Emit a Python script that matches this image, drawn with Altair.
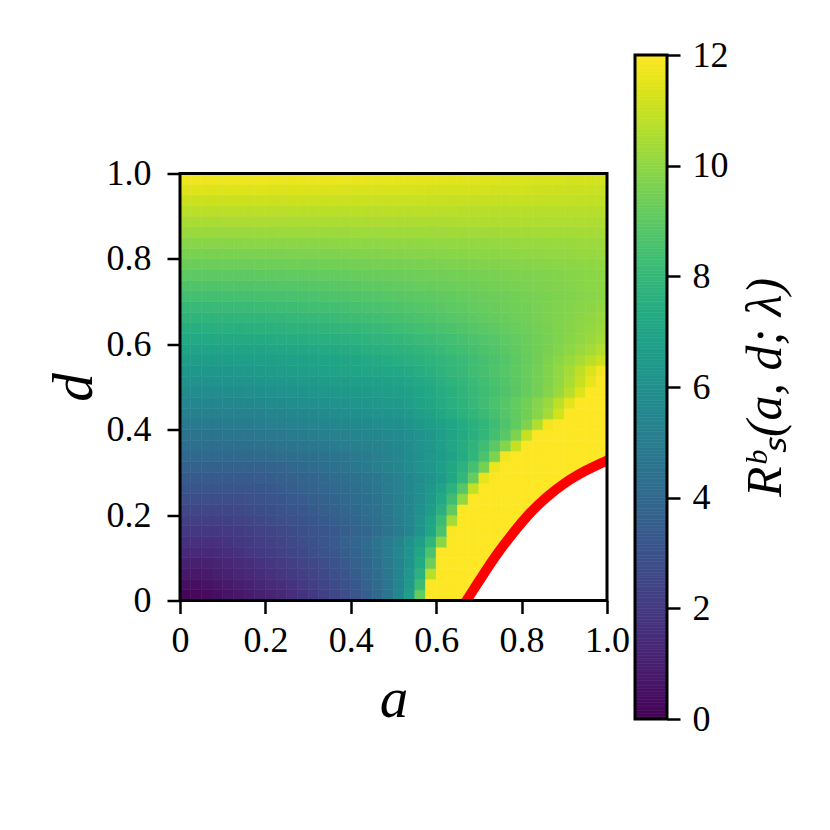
import altair as alt
import numpy as np
import pandas as pd

# ---- cell centres of the image grid (step 0.025) ----
a_centers = [0.0125, 0.0375, 0.0625, 0.0875, 0.1125, 0.1375, 0.1625, 0.1875, 0.2125, 0.2375,
             0.2625, 0.2875, 0.3125, 0.3375, 0.3625, 0.3875, 0.4125, 0.4375, 0.4625, 0.4875,
             0.5125, 0.5375, 0.5625, 0.5875, 0.6125, 0.6375, 0.6625, 0.6875, 0.7125, 0.7375,
             0.7625, 0.7875, 0.8125, 0.8375, 0.8625, 0.8875, 0.9125, 0.9375, 0.9625, 0.9875]
d_centers = list(a_centers)

SAT = 12  # saturated (yellow) cells of the band next to the red curve

# ---- R_s^b(a, d) read row by row, one list per d row (bottom to top) ----
row_00 = [0.15, 0.2, 0.32, 0.44, 0.57, 0.71, 0.85, 1.01, 1.17, 1.35, 1.54, 1.75, 1.97, 2.22, 2.5, 2.81, 3.16, 3.57, 4.06, 4.68, 5.49, 6.7, 9.15] + [SAT] * 17
row_01 = [0.44, 0.44, 0.56, 0.68, 0.81, 0.94, 1.08, 1.24, 1.39, 1.57, 1.75, 1.96, 2.17, 2.41, 2.67, 2.97, 3.3, 3.69, 4.15, 4.7, 5.42, 6.44, 8.17] + [SAT] * 17
row_02 = [0.74, 0.74, 0.8, 0.93, 1.05, 1.19, 1.33, 1.48, 1.63, 1.8, 1.98, 2.17, 2.39, 2.61, 2.86, 3.15, 3.46, 3.83, 4.25, 4.76, 5.41, 6.28, 7.63, 10.74] + [SAT] * 16
row_03 = [1.03, 1.03, 1.05, 1.17, 1.29, 1.42, 1.56, 1.7, 1.86, 2.02, 2.19, 2.38, 2.59, 2.81, 3.05, 3.32, 3.63, 3.96, 4.36, 4.84, 5.42, 6.18, 7.29, 9.32] + [SAT] * 16
row_04 = [1.33, 1.33, 1.33, 1.43, 1.55, 1.67, 1.8, 1.95, 2.1, 2.25, 2.42, 2.6, 2.81, 3.02, 3.25, 3.51, 3.8, 4.12, 4.5, 4.94, 5.47, 6.15, 7.09, 8.6] + [SAT] * 16
row_05 = [1.62, 1.62, 1.62, 1.65, 1.76, 1.88, 2.01, 2.15, 2.29, 2.45, 2.61, 2.78, 2.97, 3.18, 3.4, 3.64, 3.91, 4.22, 4.55, 4.95, 5.43, 6.01, 6.77, 7.88, 9.91] + [SAT] * 15
row_06 = [1.92, 1.92, 1.92, 1.92, 1.99, 2.08, 2.18, 2.3, 2.42, 2.55, 2.68, 2.83, 2.98, 3.14, 3.33, 3.52, 3.73, 3.97, 4.24, 4.56, 4.95, 5.45, 6.15, 7.1, 8.6, 11.92] + [SAT] * 14
row_07 = [2.21, 2.21, 2.21, 2.21, 2.24, 2.33, 2.43, 2.54, 2.66, 2.78, 2.92, 3.05, 3.2, 3.36, 3.53, 3.72, 3.92, 4.15, 4.41, 4.7, 5.06, 5.5, 6.1, 6.95, 8.2, 10.4] + [SAT] * 14
row_08 = [2.51, 2.51, 2.51, 2.51, 2.51, 2.56, 2.66, 2.76, 2.87, 2.99, 3.12, 3.25, 3.39, 3.54, 3.7, 3.88, 4.07, 4.28, 4.52, 4.79, 5.1, 5.5, 5.98, 6.65, 7.6, 9.1] + [SAT] * 14
row_09 = [2.8, 2.8, 2.8, 2.8, 2.8, 2.8, 2.9, 2.99, 3.1, 3.21, 3.32, 3.45, 3.57, 3.72, 3.87, 4.03, 4.21, 4.4, 4.62, 4.86, 5.14, 5.48, 5.9, 6.45, 7.2, 8.3, 10.1] + [SAT] * 13
row_10 = [3.1, 3.1, 3.1, 3.1, 3.1, 3.1, 3.12, 3.2, 3.3, 3.4, 3.51, 3.63, 3.75, 3.88, 4.02, 4.17, 4.34, 4.52, 4.72, 4.94, 5.2, 5.5, 5.87, 6.33, 6.92, 7.7, 8.85, 10.9] + [SAT] * 12
row_11 = [3.39, 3.39, 3.39, 3.39, 3.39, 3.39, 3.39, 3.43, 3.51, 3.61, 3.71, 3.82, 3.92, 4.05, 4.18, 4.32, 4.47, 4.63, 4.8, 5.0, 5.22, 5.47, 5.76, 6.1, 6.55, 7.15, 7.95, 9.2, 11.6] + [SAT] * 11
row_12 = [3.69, 3.69, 3.69, 3.69, 3.69, 3.69, 3.69, 3.69, 3.73, 3.84, 3.95, 4.06, 4.19, 4.31, 4.46, 4.6, 4.76, 4.93, 5.11, 5.31, 5.53, 5.78, 6.06, 6.37, 6.73, 7.17, 7.72, 8.44, 9.52, 11.7] + [SAT] * 10
row_13 = [3.98, 3.98, 3.99, 4.0, 4.02, 4.04, 4.07, 4.11, 4.15, 4.2, 4.26, 4.33, 4.41, 4.5, 4.6, 4.71, 4.83, 4.96, 5.1, 5.28, 5.5, 5.74, 6.0, 6.26, 6.55, 6.92, 7.35, 7.9, 8.6, 9.65, 11.8] + [SAT] * 9
row_14 = [4.28, 4.29, 4.3, 4.32, 4.34, 4.37, 4.4, 4.45, 4.5, 4.56, 4.62, 4.69, 4.77, 4.86, 4.95, 5.04, 5.13, 5.22, 5.33, 5.45, 5.6, 5.8, 6.05, 6.35, 6.7, 7.05, 7.42, 7.82, 8.3, 8.95, 9.8, 11.0] + [SAT] * 8
row_15 = [4.57, 4.58, 4.6, 4.62, 4.64, 4.67, 4.7, 4.75, 4.8, 4.86, 4.92, 4.99, 5.07, 5.16, 5.25, 5.33, 5.41, 5.49, 5.57, 5.65, 5.75, 5.92, 6.15, 6.42, 6.7, 7.0, 7.3, 7.6, 7.95, 8.38, 8.9, 9.7, 11.0] + [SAT] * 7
row_16 = [4.87, 4.88, 4.89, 4.91, 4.93, 4.96, 4.99, 5.04, 5.1, 5.15, 5.21, 5.28, 5.35, 5.42, 5.5, 5.57, 5.64, 5.71, 5.78, 5.86, 5.95, 6.12, 6.35, 6.6, 6.85, 7.1, 7.35, 7.6, 7.9, 8.25, 8.65, 9.12, 9.7, 10.6, 11.8] + [SAT] * 5
row_17 = [5.16, 5.17, 5.18, 5.2, 5.22, 5.25, 5.28, 5.33, 5.4, 5.45, 5.51, 5.57, 5.64, 5.72, 5.8, 5.87, 5.94, 6.01, 6.08, 6.16, 6.25, 6.45, 6.68, 6.92, 7.16, 7.4, 7.65, 7.9, 8.15, 8.47, 8.8, 9.12, 9.45, 9.85, 10.4, 11.2] + [SAT] * 4
row_18 = [5.46, 5.47, 5.48, 5.5, 5.52, 5.55, 5.58, 5.63, 5.7, 5.75, 5.81, 5.87, 5.94, 6.02, 6.1, 6.17, 6.24, 6.31, 6.37, 6.43, 6.5, 6.68, 6.9, 7.12, 7.33, 7.55, 7.8, 8.05, 8.3, 8.57, 8.85, 9.15, 9.45, 9.8, 10.2, 10.8, 11.5] + [SAT] * 3
row_19 = [5.75, 5.76, 5.77, 5.79, 5.81, 5.84, 5.87, 5.92, 5.98, 6.03, 6.09, 6.15, 6.21, 6.28, 6.35, 6.41, 6.47, 6.52, 6.58, 6.64, 6.7, 6.84, 7.0, 7.19, 7.39, 7.6, 7.82, 8.05, 8.25, 8.47, 8.7, 8.94, 9.2, 9.48, 9.8, 10.2, 10.7, 11.4, 12, 12]
row_20 = [6.05, 6.06, 6.07, 6.09, 6.11, 6.14, 6.17, 6.22, 6.27, 6.32, 6.38, 6.44, 6.5, 6.55, 6.6, 6.65, 6.7, 6.76, 6.81, 6.86, 6.92, 7.05, 7.2, 7.37, 7.56, 7.75, 7.95, 8.15, 8.35, 8.55, 8.75, 8.97, 9.2, 9.46, 9.75, 10.1, 10.5, 11.0, 11.6, 12]
row_21 = [6.34, 6.35, 6.36, 6.38, 6.4, 6.43, 6.46, 6.5, 6.55, 6.6, 6.66, 6.72, 6.78, 6.83, 6.88, 6.93, 6.98, 7.03, 7.08, 7.13, 7.18, 7.3, 7.45, 7.61, 7.78, 7.95, 8.12, 8.3, 8.48, 8.66, 8.85, 9.05, 9.25, 9.48, 9.75, 10.05, 10.4, 10.85, 11.35, 11.85]
row_22 = [6.64, 6.64, 6.65, 6.66, 6.67, 6.69, 6.71, 6.73, 6.76, 6.79, 6.82, 6.86, 6.9, 6.95, 7.0, 7.06, 7.12, 7.19, 7.27, 7.35, 7.44, 7.54, 7.65, 7.76, 7.88, 8.01, 8.15, 8.3, 8.46, 8.63, 8.81, 9.0, 9.2, 9.42, 9.65, 9.9, 10.17, 10.46, 10.77, 11.1]
row_23 = [6.93, 6.93, 6.94, 6.95, 6.96, 6.98, 7.0, 7.02, 7.05, 7.08, 7.11, 7.15, 7.19, 7.24, 7.29, 7.35, 7.41, 7.48, 7.55, 7.63, 7.71, 7.8, 7.9, 8.0, 8.11, 8.23, 8.35, 8.48, 8.62, 8.76, 8.91, 9.07, 9.24, 9.42, 9.6, 9.79, 9.99, 10.2, 10.42, 10.65]
row_24 = [7.23, 7.23, 7.24, 7.25, 7.26, 7.28, 7.3, 7.32, 7.35, 7.38, 7.41, 7.45, 7.49, 7.53, 7.58, 7.63, 7.69, 7.75, 7.82, 7.89, 7.96, 8.04, 8.13, 8.22, 8.31, 8.41, 8.52, 8.63, 8.75, 8.87, 9.0, 9.13, 9.27, 9.41, 9.56, 9.71, 9.87, 10.03, 10.2, 10.37]
row_25 = [7.52, 7.52, 7.53, 7.54, 7.55, 7.57, 7.59, 7.61, 7.64, 7.67, 7.7, 7.74, 7.78, 7.82, 7.87, 7.92, 7.97, 8.03, 8.09, 8.16, 8.23, 8.3, 8.38, 8.46, 8.54, 8.63, 8.72, 8.82, 8.92, 9.02, 9.13, 9.24, 9.35, 9.47, 9.59, 9.71, 9.83, 9.96, 10.09, 10.22]
row_26 = [7.82, 7.82, 7.83, 7.84, 7.85, 7.87, 7.89, 7.91, 7.94, 7.97, 8.0, 8.03, 8.07, 8.11, 8.15, 8.2, 8.25, 8.3, 8.36, 8.42, 8.48, 8.55, 8.62, 8.69, 8.76, 8.84, 8.92, 9.0, 9.08, 9.17, 9.26, 9.35, 9.44, 9.54, 9.63, 9.73, 9.83, 9.93, 10.03, 10.13]
row_27 = [8.11, 8.11, 8.12, 8.13, 8.14, 8.15, 8.17, 8.19, 8.21, 8.24, 8.27, 8.3, 8.33, 8.37, 8.41, 8.45, 8.49, 8.54, 8.59, 8.64, 8.69, 8.75, 8.81, 8.87, 8.93, 9.0, 9.06, 9.13, 9.2, 9.27, 9.34, 9.41, 9.49, 9.56, 9.64, 9.71, 9.79, 9.87, 9.95, 10.03]
row_28 = [8.41, 8.41, 8.42, 8.42, 8.43, 8.44, 8.46, 8.47, 8.49, 8.51, 8.54, 8.56, 8.59, 8.62, 8.65, 8.69, 8.72, 8.76, 8.8, 8.84, 8.88, 8.93, 8.97, 9.02, 9.07, 9.12, 9.17, 9.22, 9.28, 9.33, 9.39, 9.44, 9.5, 9.56, 9.62, 9.68, 9.74, 9.8, 9.86, 9.92]
row_29 = [8.7, 8.7, 8.71, 8.71, 8.72, 8.73, 8.74, 8.76, 8.77, 8.79, 8.81, 8.83, 8.86, 8.88, 8.91, 8.94, 8.97, 9.0, 9.03, 9.07, 9.1, 9.14, 9.18, 9.22, 9.26, 9.3, 9.34, 9.38, 9.43, 9.47, 9.52, 9.56, 9.61, 9.65, 9.7, 9.75, 9.8, 9.85, 9.9, 9.95]
row_30 = [9.0, 9.0, 9.01, 9.01, 9.02, 9.02, 9.03, 9.04, 9.06, 9.07, 9.09, 9.1, 9.12, 9.14, 9.16, 9.18, 9.21, 9.23, 9.26, 9.28, 9.31, 9.34, 9.37, 9.4, 9.43, 9.46, 9.49, 9.52, 9.55, 9.59, 9.62, 9.65, 9.69, 9.72, 9.76, 9.79, 9.83, 9.86, 9.9, 9.94]
row_31 = [9.29, 9.29, 9.3, 9.3, 9.31, 9.31, 9.32, 9.33, 9.34, 9.35, 9.36, 9.38, 9.39, 9.41, 9.42, 9.44, 9.46, 9.48, 9.5, 9.52, 9.54, 9.56, 9.58, 9.61, 9.63, 9.65, 9.68, 9.7, 9.73, 9.75, 9.78, 9.8, 9.83, 9.86, 9.88, 9.91, 9.94, 9.96, 9.99, 10.02]
row_32 = [9.59, 9.59, 9.59, 9.6, 9.6, 9.61, 9.61, 9.62, 9.63, 9.64, 9.65, 9.66, 9.67, 9.68, 9.7, 9.71, 9.72, 9.74, 9.75, 9.77, 9.78, 9.8, 9.82, 9.83, 9.85, 9.87, 9.89, 9.91, 9.93, 9.95, 9.97, 9.99, 10.01, 10.03, 10.05, 10.07, 10.09, 10.11, 10.13, 10.15]
row_33 = [9.88, 9.88, 9.88, 9.89, 9.89, 9.89, 9.9, 9.9, 9.91, 9.92, 9.92, 9.93, 9.94, 9.95, 9.96, 9.97, 9.98, 9.99, 10.0, 10.01, 10.02, 10.03, 10.04, 10.05, 10.06, 10.07, 10.08, 10.09, 10.1, 10.12, 10.13, 10.14, 10.15, 10.16, 10.17, 10.19, 10.2, 10.21, 10.22, 10.23]
row_34 = [10.18, 10.18, 10.18, 10.18, 10.19, 10.19, 10.19, 10.2, 10.2, 10.21, 10.21, 10.22, 10.22, 10.23, 10.23, 10.24, 10.25, 10.25, 10.26, 10.27, 10.27, 10.28, 10.29, 10.29, 10.3, 10.31, 10.31, 10.32, 10.33, 10.33, 10.34, 10.35, 10.35, 10.36, 10.37, 10.37, 10.38, 10.39, 10.39, 10.4]
row_35 = [10.47, 10.47, 10.47, 10.47, 10.48, 10.48, 10.48, 10.48, 10.49, 10.49, 10.49, 10.5, 10.5, 10.5, 10.51, 10.51, 10.51, 10.52, 10.52, 10.52, 10.53, 10.53, 10.53, 10.54, 10.54, 10.54, 10.55, 10.55, 10.55, 10.55, 10.56, 10.56, 10.56, 10.56, 10.57, 10.57, 10.57, 10.57, 10.58, 10.58]
row_36 = [10.78, 10.78, 10.78, 10.78, 10.78, 10.78, 10.78, 10.78, 10.78, 10.78, 10.77, 10.77, 10.77, 10.77, 10.77, 10.77, 10.77, 10.76, 10.76, 10.76, 10.76, 10.76, 10.75, 10.75, 10.75, 10.75, 10.74, 10.74, 10.74, 10.73, 10.73, 10.73, 10.72, 10.72, 10.72, 10.71, 10.71, 10.7, 10.7, 10.7]
row_37 = [11.1, 11.1, 11.1, 11.1, 11.09, 11.09, 11.09, 11.09, 11.08, 11.08, 11.08, 11.07, 11.07, 11.06, 11.06, 11.05, 11.05, 11.04, 11.04, 11.03, 11.02, 11.02, 11.01, 11.0, 11.0, 10.99, 10.98, 10.97, 10.97, 10.96, 10.95, 10.94, 10.93, 10.93, 10.92, 10.91, 10.9, 10.89, 10.88, 10.87]
row_38 = [11.42, 11.42, 11.42, 11.41, 11.41, 11.41, 11.4, 11.4, 11.39, 11.39, 11.38, 11.37, 11.37, 11.36, 11.35, 11.34, 11.33, 11.32, 11.31, 11.3, 11.29, 11.28, 11.27, 11.26, 11.25, 11.24, 11.22, 11.21, 11.2, 11.18, 11.17, 11.16, 11.14, 11.13, 11.11, 11.1, 11.08, 11.07, 11.05, 11.04]
row_39 = [11.75, 11.75, 11.75, 11.74, 11.74, 11.73, 11.73, 11.72, 11.71, 11.7, 11.69, 11.68, 11.67, 11.66, 11.65, 11.64, 11.62, 11.61, 11.6, 11.58, 11.57, 11.55, 11.53, 11.52, 11.5, 11.48, 11.46, 11.44, 11.42, 11.4, 11.38, 11.36, 11.34, 11.32, 11.3, 11.28, 11.26, 11.24, 11.22, 11.2]

R_rows = [row_00, row_01, row_02, row_03, row_04, row_05, row_06, row_07, row_08, row_09,
          row_10, row_11, row_12, row_13, row_14, row_15, row_16, row_17, row_18, row_19,
          row_20, row_21, row_22, row_23, row_24, row_25, row_26, row_27, row_28, row_29,
          row_30, row_31, row_32, row_33, row_34, row_35, row_36, row_37, row_38, row_39]

# ---- red boundary curve ----
curve_a = [0.654, 0.671, 0.700, 0.740, 0.780, 0.820, 0.860, 0.900, 0.950, 1.000, 1.040]
curve_d = [-0.025, 0.000, 0.045, 0.105, 0.158, 0.205, 0.243, 0.274, 0.304, 0.328, 0.345]

axis_ticks = [0, 0.2, 0.4, 0.6, 0.8, 1.0]
cbar_ticks = [0, 2, 4, 6, 8, 10, 12]
R_min, R_max = 0, 12
cbar_title = "R\u1d47\u209b(a, d; \u03bb)"

FONT = "Liberation Serif"

# ---- tables ----
half_a = (a_centers[1] - a_centers[0]) / 2
half_d = (d_centers[1] - d_centers[0]) / 2
recs = []
for j, d in enumerate(d_centers):
    row = R_rows[j]
    assert len(row) == len(a_centers), (j, len(row))
    for i, a in enumerate(a_centers):
        recs.append({"a0": a - half_a, "a1": a + half_a,
                     "d0": d - half_d, "d1": d + half_d, "R": row[i]})
heat_df = pd.DataFrame(recs)

curve_df = pd.DataFrame({"a": curve_a, "d": curve_d, "base": [0.0] * len(curve_a)})
frame_df = pd.DataFrame({"a0": [axis_ticks[0]], "a1": [axis_ticks[-1]],
                         "d0": [axis_ticks[0]], "d1": [axis_ticks[-1]]})

levels = np.linspace(R_min, R_max, 241)
cb_df = pd.DataFrame({"lo": levels[:-1], "hi": levels[1:],
                      "mid": (levels[:-1] + levels[1:]) / 2})
cb_frame_df = pd.DataFrame({"lo": [R_min], "hi": [R_max]})

x_scale = alt.Scale(domain=[0, 1], nice=False, zero=False)
y_scale = alt.Scale(domain=[0, 1], nice=False, zero=False)
c_scale = alt.Scale(scheme="viridis", domain=[R_min, R_max], clamp=True)
cb_scale = alt.Scale(domain=[R_min, R_max], nice=False, zero=False)

lbl = "datum.value == 0 ? '0' : format(datum.value, '.1f')"

heat = alt.Chart(heat_df).mark_rect(strokeWidth=0.6).encode(
    x=alt.X("a0:Q", scale=x_scale,
            axis=alt.Axis(title="a", values=axis_ticks, labelExpr=lbl,
                          labelPadding=10, titlePadding=13)),
    x2="a1:Q",
    y=alt.Y("d0:Q", scale=y_scale,
            axis=alt.Axis(title="d", values=axis_ticks, labelExpr=lbl,
                          labelPadding=16, titlePadding=3)),
    y2="d1:Q",
    color=alt.Color("R:Q", scale=c_scale, legend=None),
    stroke=alt.Stroke("R:Q", scale=c_scale, legend=None),
)

white = alt.Chart(curve_df).mark_area(color="white", clip=True, interpolate="monotone").encode(
    x="a:Q", y="d:Q", y2="base:Q")

red = alt.Chart(curve_df).mark_line(color="#ff0000", strokeWidth=10, clip=True,
                                    interpolate="monotone").encode(x="a:Q", y="d:Q")

frame = alt.Chart(frame_df).mark_rect(fillOpacity=0, stroke="black", strokeWidth=3).encode(
    x="a0:Q", x2="a1:Q", y="d0:Q", y2="d1:Q")

main = alt.layer(heat, white, red, frame).properties(width=427, height=427)

cb_bar = alt.Chart(cb_df).mark_rect(strokeWidth=0.6).encode(
    y=alt.Y("lo:Q", scale=cb_scale,
            axis=alt.Axis(orient="right", values=cbar_ticks, title=cbar_title,
                          titleAngle=270, titleBaseline="top", titleFontSize=50,
                          titlePadding=12, format="d", labelPadding=12)),
    y2="hi:Q",
    color=alt.Color("mid:Q", scale=c_scale, legend=None),
    stroke=alt.Stroke("mid:Q", scale=c_scale, legend=None),
)
cb_frame = alt.Chart(cb_frame_df).mark_rect(fillOpacity=0, stroke="black", strokeWidth=3).encode(
    y="lo:Q", y2="hi:Q")

cbar = alt.layer(cb_bar, cb_frame).properties(width=32, height=664)

chart = alt.hconcat(main, cbar, spacing=28, center=True, bounds="flush").properties(
    padding={"left": 37, "top": 29, "right": 5, "bottom": 5}
).configure_view(
    strokeWidth=0
).configure_axis(
    labelFont=FONT, labelFontSize=36, labelColor="black",
    titleFont=FONT, titleFontSize=57, titleFontStyle="italic", titleFontWeight="normal",
    titleColor="black", tickColor="black", tickWidth=2.5, tickSize=13,
    domain=False, grid=False, labelFlush=False, labelOverlap=False,
)

chart.save("out.html", embed_options={"renderer": "svg", "actions": False})
